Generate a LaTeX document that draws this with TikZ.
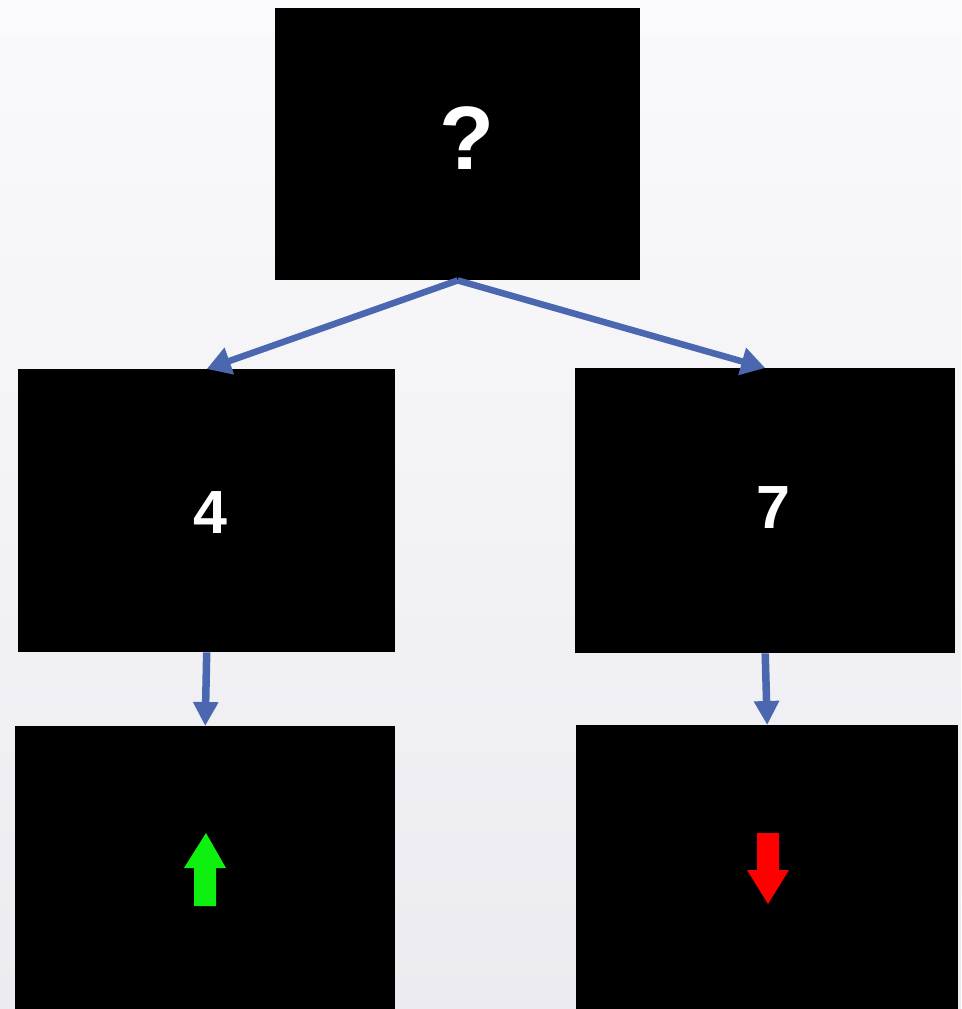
\documentclass[tikz,border=0pt]{standalone}
\usepackage{fontspec}
\setmainfont{Liberation Sans}
\usetikzlibrary{arrows.meta}
\definecolor{conblue}{HTML}{4A67AF}
\definecolor{upgreen}{HTML}{10F010}
\definecolor{downred}{HTML}{FF0000}
\definecolor{bgtop}{HTML}{FAFAFC}
\definecolor{bgbot}{HTML}{ECECF0}
\tikzset{
  blackbox/.style={fill=black, draw=none, inner sep=0pt, anchor=north west},
  boxtext/.style={text=white, font=\bfseries, inner sep=0pt},
  slantcon/.style={draw=conblue, line width=6.5pt, -{Triangle[width=27pt,length=24pt]}},
  vertcon/.style={draw=conblue, line width=7.5pt, -{Triangle[width=24pt,length=24pt]}},
}
\begin{document}
\begin{tikzpicture}[x=1pt, y=-1pt]
\useasboundingbox (0,0) rectangle (961,1009);
\shade[top color=bgtop, bottom color=bgbot] (0,0) rectangle (961,1009);
% boxes
\node[blackbox, minimum width=365pt, minimum height=272pt] (top) at (275,8) {};
\node[blackbox, minimum width=377pt, minimum height=283pt] (L) at (18,369) {};
\node[blackbox, minimum width=380pt, minimum height=285pt] (R) at (575,368) {};
\node[blackbox, minimum width=380pt, minimum height=283pt] (LB) at (15,726) {};
\node[blackbox, minimum width=382pt, minimum height=284pt] (RB) at (576,725) {};
% texts
\node[boxtext, font=\fontsize{90}{90}\selectfont\bfseries] (qtext) at (467,138) {?};
\node[boxtext, font=\fontsize{61}{61}\selectfont\bfseries] (ltext) at (210,513) {4};
\node[boxtext, font=\fontsize{61}{61}\selectfont\bfseries] (rtext) at (773,508) {7};
% connectors
\draw[slantcon] (top.south) -- (L.north);
\draw[slantcon] (top.south) -- (R.north);
\draw[vertcon] (L.south) -- (LB.north);
\draw[vertcon] (R.south) -- (RB.north);
% up / down symbols
\fill[upgreen] (206,833) -- (226,868) -- (216,868) -- (216,906) -- (194,906) -- (194,868) -- (184,868) -- cycle;
\fill[downred] (768,904) -- (789,870) -- (779,870) -- (779,833) -- (757,833) -- (757,870) -- (747,870) -- cycle;
\end{tikzpicture}
\end{document}
